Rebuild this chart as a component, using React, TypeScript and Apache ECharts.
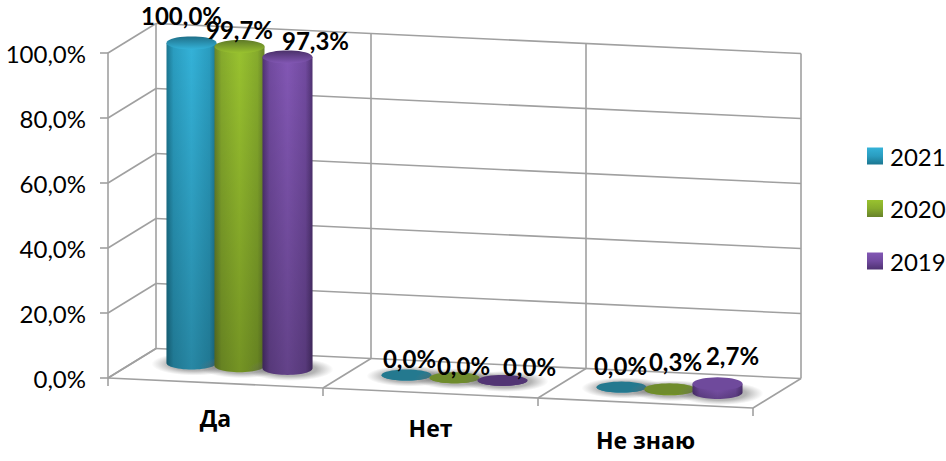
import React, { useEffect, useRef } from "react";
import * as echarts from "echarts";

const categories = ["Да", "Нет", "Не знаю"];
const years = ["2021", "2020", "2019"];
const values2021 = [100.0, 0.0, 0.0];
const values2020 = [99.7, 0.0, 0.3];
const values2019 = [97.3, 0.0, 2.7];
const yTicks = [0, 20, 40, 60, 80, 100];

// layout only: label nudges relative to the top of each cylinder, by year then category
const labelNudges = [
  [[-10, -27], [3, -17], [-1, -22]],
  [[0, -17], [9, -12], [6, -27]],
  [[28, -16], [27, -14], [15, -28]],
];
const palette = [
  { dark: "#1b7690", mid: "#2a9dc0", light: "#34b2d8", top: "#2a93b5", low: "#1f6f88", flat: "#24798f" },
  { dark: "#67822a", mid: "#86ab2c", light: "#99c22f", top: "#8cb42e", low: "#5f7a28", flat: "#6f8c2c" },
  { dark: "#4f3272", mid: "#714a9f", light: "#8257b4", top: "#6f4a9c", low: "#4a3069", flat: "#523574" },
];

const FONT = "Lato, 'Open Sans', sans-serif";
const CAT_FONT = "'Open Sans', sans-serif";
const GRID_LINE = "#a0a0a0";
const fmt = (v: number) => v.toFixed(1).replace(".", ",") + "%";

const FLOOR_SLOPE = 30 / 645; // skew of walls and floor
const DEPTH_X = 48;
const DEPTH_Y = -29.5;
const BAR_RX = 25;
const BAR_RY = 6.5;
const BAR_STEP = 48;
const BAR_SLOPE = 0.056;
const BAR_SCALE = 0.985;

function arcPts(cx: number, cy: number, rx: number, ry: number, a0: number, a1: number, n = 28) {
  const pts: number[][] = [];
  for (let i = 0; i <= n; i++) {
    const a = a0 + ((a1 - a0) * i) / n;
    pts.push([cx + rx * Math.cos(a), cy + ry * Math.sin(a)]);
  }
  return pts;
}

function renderWalls(params: any, api: any) {
  const cs = params.coordSys;
  const v = api.value(0);
  const y = api.coord([0, v])[1];
  const x0 = cs.x;
  const w = cs.width;
  const style = { stroke: GRID_LINE, lineWidth: 1.6, fill: "none" };
  const line = (a: number[], b: number[]) => ({
    type: "line",
    shape: { x1: a[0], y1: a[1], x2: b[0], y2: b[1] },
    style,
  });
  const children: any[] = [
    line([x0, y], [x0 + DEPTH_X, y + DEPTH_Y]),
    line([x0 + DEPTH_X, y + DEPTH_Y], [x0 + DEPTH_X + w, y + DEPTH_Y + w * FLOOR_SLOPE]),
  ];
  if (v === yTicks[0]) {
    const top = cs.y;
    const base = cs.y + cs.height;
    children.push(line([x0, base], [x0 + w, base + w * FLOOR_SLOPE]));
    for (let k = 0; k <= categories.length; k++) {
      const fx = x0 + (w * k) / categories.length;
      const off = (fx - x0) * FLOOR_SLOPE;
      children.push(line([fx, base + off], [fx + DEPTH_X, base + off + DEPTH_Y]));
      children.push(line([fx, base + off], [fx, base + off + 8]));
      children.push(line([fx + DEPTH_X, base + off + DEPTH_Y], [fx + DEPTH_X, top + off + DEPTH_Y]));
    }
  }
  return { type: "group", children };
}

function makeBarRenderer(s: number) {
  const c = palette[s];
  return (params: any, api: any) => {
    const cat = api.value(0);
    const val = api.value(1);
    const p = api.coord([cat, 0]);
    const h = (p[1] - api.coord([cat, val])[1]) * BAR_SCALE;
    const cs = params.coordSys;
    const catW = cs.width / categories.length;
    const cx = p[0] + (s - 1) * BAR_STEP + DEPTH_X / 2;
    const by = p[1] - 15 + (cat * catW + s * BAR_STEP) * BAR_SLOPE;
    const ty = by - h;
    const ry = h < 1 ? 5.5 : h < 20 ? 6.5 : BAR_RY;
    const bodyPts = [[cx - BAR_RX, ty], ...arcPts(cx, by, BAR_RX, ry, Math.PI, 0), [cx + BAR_RX, ty]];
    const children: any[] = [];
    children.push({
      type: "polygon",
      shape: { points: arcPts(cx + 3, by + 1, BAR_RX + 18, ry + 5, 0, Math.PI * 2, 40) },
      style: {
        fill: new echarts.graphic.RadialGradient(0.5, 0.5, 0.5, [
          { offset: 0, color: "rgba(90,90,90,0.6)" },
          { offset: 0.6, color: "rgba(90,90,90,0.45)" },
          { offset: 1, color: "rgba(120,120,120,0)" },
        ]),
      },
    });
    children.push({
      type: "polygon",
      shape: { points: bodyPts },
      style: {
        fill: new echarts.graphic.LinearGradient(0, 0, 1, 0, [
          { offset: 0, color: c.dark },
          { offset: 0.14, color: c.mid },
          { offset: 0.5, color: c.light },
          { offset: 0.86, color: c.mid },
          { offset: 1, color: c.dark },
        ]),
      },
    });
    children.push({
      type: "polygon",
      shape: { points: bodyPts },
      style: {
        fill: new echarts.graphic.LinearGradient(0, 0, 0, 1, [
          { offset: 0, color: "rgba(0,0,0,0)" },
          { offset: 1, color: "rgba(0,0,0,0.24)" },
        ]),
      },
    });
    children.push({
      type: "polygon",
      shape: { points: arcPts(cx, ty, BAR_RX, ry, 0, Math.PI * 2, 40) },
      style: {
        fill:
          h < 1
            ? c.flat
            : h < 20
            ? c.top
            : new echarts.graphic.LinearGradient(0, 0, 0, 1, [
                { offset: 0, color: c.low },
                { offset: 1, color: c.light },
              ]),
      },
    });
    const n = labelNudges[s][cat];
    children.push({
      type: "text",
      z2: 100,
      x: cx + n[0],
      y: ty + n[1],
      style: {
        text: fmt(val),
        font: `bold 24px ${FONT}`,
        fill: "#000",
        align: "center",
        verticalAlign: "middle",
      },
    });
    return { type: "group", children };
  };
}

function legendFill(s: number) {
  const c = palette[s];
  return new echarts.graphic.LinearGradient(0, 0, 0, 1, [
    { offset: 0, color: c.light },
    { offset: 0.5, color: c.mid },
    { offset: 1, color: c.dark },
  ]);
}

const catLabel = (top: number) => ({
  fontFamily: CAT_FONT,
  fontWeight: "bold",
  fontSize: 23,
  color: "#000",
  padding: [top, 0, 0, 0],
});

export default function App() {
  const ref = useRef<HTMLDivElement>(null);
  useEffect(() => {
    if (!ref.current) return;
    const chart = echarts.init(ref.current, undefined, { renderer: "svg" });
    const bySeries = [values2021, values2020, values2019];
    chart.setOption({
      animation: false,
      backgroundColor: "#fff",
      textStyle: { fontFamily: FONT },
      grid: { left: 108, top: 53, width: 645, height: 325 },
      legend: {
        data: years,
        orient: "vertical",
        left: 867,
        top: 144,
        icon: "rect",
        itemWidth: 16,
        itemHeight: 17,
        itemGap: 28.5,
        padding: 0,
        selectedMode: false,
        textStyle: { fontSize: 24, color: "#000", fontFamily: FONT, padding: [0, 0, 0, 2] },
      },
      xAxis: {
        type: "category",
        data: categories,
        axisLine: { show: false },
        axisTick: { show: false },
        splitLine: { show: false },
        axisLabel: {
          margin: 0,
          interval: 0,
          hideOverlap: false,
          formatter: (v: string) => `{c${categories.indexOf(v)}|${v}}`,
          rich: { c0: catLabel(28), c1: catLabel(38), c2: catLabel(50) },
        },
      },
      yAxis: {
        type: "value",
        min: 0,
        max: 100,
        interval: 20,
        axisLine: { show: true, lineStyle: { color: GRID_LINE, width: 1.6 } },
        axisTick: { show: true, length: 8, lineStyle: { color: GRID_LINE, width: 1.6 } },
        splitLine: { show: false },
        axisLabel: {
          margin: 22,
          fontSize: 24,
          color: "#000",
          fontFamily: FONT,
          formatter: (v: number) => fmt(v),
        },
      },
      series: [
        {
          type: "custom",
          name: "walls",
          z: 1,
          silent: true,
          renderItem: renderWalls,
          encode: { y: 0 },
          data: yTicks.map((v) => [v]),
          clip: false,
        },
        ...years.map((name, s) => ({
          type: "custom",
          name,
          z: 2,
          silent: true,
          itemStyle: { color: legendFill(s) },
          renderItem: makeBarRenderer(s),
          encode: { x: 0, y: 1 },
          data: bySeries[s].map((v, i) => [i, v]),
          clip: false,
        })),
      ],
    });
    return () => chart.dispose();
  }, []);
  return <div ref={ref} style={{ position: "fixed", left: 0, top: 0, width: 946, height: 461 }} />;
}
